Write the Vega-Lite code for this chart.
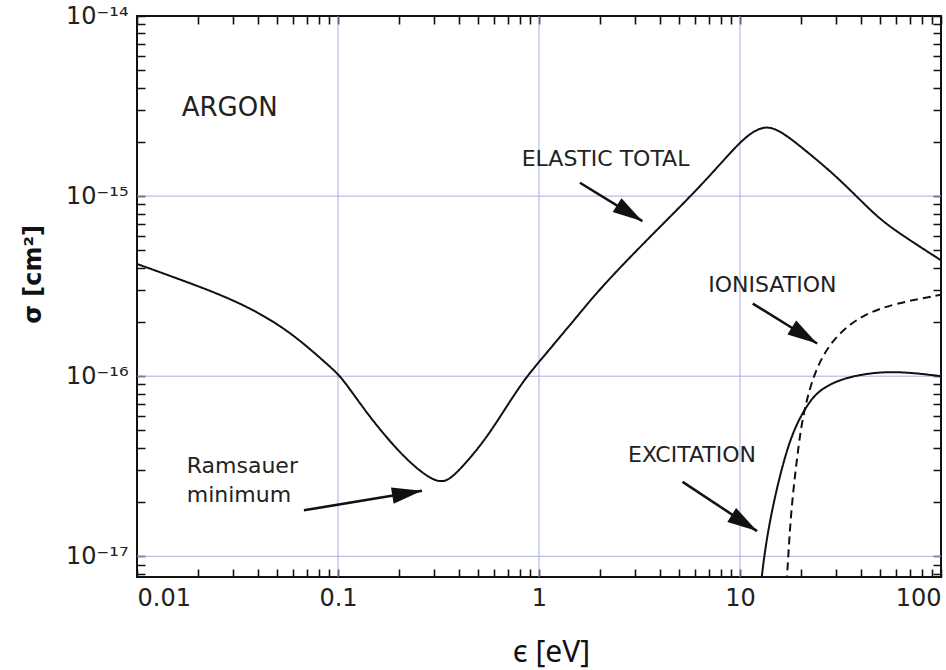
{
  "$schema": "https://vega.github.io/schema/vega-lite/v6.json",
  "width": 804,
  "height": 561,
  "autosize": {"type": "none"},
  "padding": {"left": 137, "top": 16, "right": 5, "bottom": 93},
  "background": "white",
  "config": {"view": {"stroke": "#111", "strokeWidth": 2}, "font": "DejaVu Sans"},
  "datasets": {
    "curves": [
      {"series": "elastic", "E": 0.01, "sigma": 4.2e-16},
      {"series": "elastic", "E": 0.02, "sigma": 3.18e-16},
      {"series": "elastic", "E": 0.03, "sigma": 2.65e-16},
      {"series": "elastic", "E": 0.0433, "sigma": 2.16e-16},
      {"series": "elastic", "E": 0.0622, "sigma": 1.65e-16},
      {"series": "elastic", "E": 0.0912, "sigma": 1.13e-16},
      {"series": "elastic", "E": 0.105, "sigma": 9.8e-17},
      {"series": "elastic", "E": 0.139, "sigma": 6.2e-17},
      {"series": "elastic", "E": 0.204, "sigma": 3.7e-17},
      {"series": "elastic", "E": 0.277, "sigma": 2.75e-17},
      {"series": "elastic", "E": 0.329, "sigma": 2.55e-17},
      {"series": "elastic", "E": 0.376, "sigma": 2.75e-17},
      {"series": "elastic", "E": 0.531, "sigma": 4.3e-17},
      {"series": "elastic", "E": 0.667, "sigma": 6.4e-17},
      {"series": "elastic", "E": 0.84, "sigma": 9.5e-17},
      {"series": "elastic", "E": 1.0, "sigma": 1.2e-16},
      {"series": "elastic", "E": 1.55, "sigma": 2.15e-16},
      {"series": "elastic", "E": 2.03, "sigma": 3.1e-16},
      {"series": "elastic", "E": 3.27, "sigma": 5.4e-16},
      {"series": "elastic", "E": 5.7, "sigma": 1.0e-15},
      {"series": "elastic", "E": 7.74, "sigma": 1.45e-15},
      {"series": "elastic", "E": 10.0, "sigma": 2.0e-15},
      {"series": "elastic", "E": 12.0, "sigma": 2.35e-15},
      {"series": "elastic", "E": 14.0, "sigma": 2.45e-15},
      {"series": "elastic", "E": 16.6, "sigma": 2.22e-15},
      {"series": "elastic", "E": 20.1, "sigma": 1.88e-15},
      {"series": "elastic", "E": 29.5, "sigma": 1.32e-15},
      {"series": "elastic", "E": 40.0, "sigma": 9.4e-16},
      {"series": "elastic", "E": 50.0, "sigma": 7.4e-16},
      {"series": "elastic", "E": 63.5, "sigma": 6.1e-16},
      {"series": "elastic", "E": 100.0, "sigma": 4.4e-16},
      {"series": "ionisation", "E": 16.9, "sigma": 6e-18},
      {"series": "ionisation", "E": 17.3, "sigma": 9.1e-18},
      {"series": "ionisation", "E": 17.9, "sigma": 1.73e-17},
      {"series": "ionisation", "E": 19.0, "sigma": 3.16e-17},
      {"series": "ionisation", "E": 20.1, "sigma": 5.25e-17},
      {"series": "ionisation", "E": 21.8, "sigma": 8.0e-17},
      {"series": "ionisation", "E": 24.4, "sigma": 1.17e-16},
      {"series": "ionisation", "E": 29.5, "sigma": 1.65e-16},
      {"series": "ionisation", "E": 40.0, "sigma": 2.18e-16},
      {"series": "ionisation", "E": 59.0, "sigma": 2.54e-16},
      {"series": "ionisation", "E": 100.0, "sigma": 2.83e-16},
      {"series": "excitation", "E": 12.45, "sigma": 5.7e-18},
      {"series": "excitation", "E": 13.2, "sigma": 1.03e-17},
      {"series": "excitation", "E": 14.3, "sigma": 1.73e-17},
      {"series": "excitation", "E": 16.0, "sigma": 3.0e-17},
      {"series": "excitation", "E": 18.3, "sigma": 4.97e-17},
      {"series": "excitation", "E": 21.8, "sigma": 7.1e-17},
      {"series": "excitation", "E": 25.4, "sigma": 8.6e-17},
      {"series": "excitation", "E": 34.4, "sigma": 1.0e-16},
      {"series": "excitation", "E": 56.6, "sigma": 1.08e-16},
      {"series": "excitation", "E": 100.0, "sigma": 1.0e-16}
    ],
    "gridE": [{"E": 0.1}, {"E": 1}, {"E": 10}],
    "gridS": [{"sigma": 1e-17}, {"sigma": 1e-16}, {"sigma": 1e-15}],
    "arrows": [
      {"label": "elastic", "E1": 1.598, "s1": 1.186e-15, "E2": 3.27, "s2": 7.26e-16},
      {"label": "ionisation", "E1": 11.57, "s1": 2.53e-16, "E2": 24.2, "s2": 1.52e-16},
      {"label": "excitation", "E1": 5.18, "s1": 2.59e-17, "E2": 12.16, "s2": 1.38e-17},
      {"label": "ramsauer", "E1": 0.0677, "s1": 1.8e-17, "E2": 0.2616, "s2": 2.31e-17}
    ],
    "texts": [
      {"text": "ARGON", "E": 0.01669, "sigma": 2.78e-15},
      {"text": "ELASTIC TOTAL", "E": 0.82, "sigma": 1.468e-15},
      {"text": "IONISATION", "E": 6.95, "sigma": 2.94e-16},
      {"text": "EXCITATION", "E": 2.772, "sigma": 3.34e-17},
      {"text": "Ramsauer", "E": 0.01768, "sigma": 2.89e-17},
      {"text": "minimum", "E": 0.01768, "sigma": 2.01e-17}
    ]
  },
  "layer": [
    {
      "data": {"name": "gridE"},
      "mark": {"type": "rule", "color": "#a9aee2", "strokeWidth": 1},
      "encoding": {
        "x": {"field": "E", "type": "quantitative", "scale": {"type": "log", "domain": [0.01, 100], "nice": false}, "axis": null}
      }
    },
    {
      "data": {"name": "gridS"},
      "mark": {"type": "rule", "color": "#a9aee2", "strokeWidth": 1},
      "encoding": {
        "y": {"field": "sigma", "type": "quantitative", "scale": {"type": "log", "domain": [7.674e-18, 1e-14], "nice": false}, "axis": null}
      }
    },
    {
      "data": {"name": "curves"},
      "mark": {"type": "line", "clip": true, "strokeWidth": 2, "color": "#111", "interpolate": "basis"},
      "encoding": {
        "x": {
          "field": "E", "type": "quantitative",
          "scale": {"type": "log", "domain": [0.01, 100], "nice": false},
          "axis": {
            "orient": "bottom",
            "values": [0.01,0.02,0.03,0.04,0.05,0.06,0.07,0.08,0.09,0.1,0.2,0.3,0.4,0.5,0.6,0.7,0.8,0.9,1,2,3,4,5,6,7,8,9,10,20,30,40,50,60,70,80,90,100],
            "labelExpr": "abs(log(datum.value)/LN10 - round(log(datum.value)/LN10)) < 0.01 ? format(datum.value, '~g') : ''",
            "labelFont": "DejaVu Sans", "labelFontSize": 24, "labelColor": "#222",
            "labelPadding": 9, "labelOverlap": false, "labelBound": false, "labelFlush": true,
            "ticks": false, "domain": false,
            "grid": true, "gridColor": "#111", "gridWidth": 1.6, "gridOpacity": 1, "gridDash": [8, 545, 8, 2000],
            "title": "ϵ [eV]", "titleFont": "Noto Sans", "titleFontSize": 30, "titleFontWeight": "normal", "titleColor": "#111",
            "titleX": 414, "titleY": 84, "titleBaseline": "alphabetic", "titleAlign": "center"
          }
        },
        "y": {
          "field": "sigma", "type": "quantitative",
          "scale": {"type": "log", "domain": [7.674e-18, 1e-14], "nice": false},
          "axis": {
            "orient": "left",
            "values": [8e-18,9e-18,1e-17,2e-17,3e-17,4e-17,5e-17,6e-17,7e-17,8e-17,9e-17,1e-16,2e-16,3e-16,4e-16,5e-16,6e-16,7e-16,8e-16,9e-16,1e-15,2e-15,3e-15,4e-15,5e-15,6e-15,7e-15,8e-15,9e-15,1e-14],
            "labelExpr": "abs(log(datum.value)/LN10 - round(log(datum.value)/LN10)) < 0.01 ? '10⁻¹' + ['⁰','¹','²','³','⁴','⁵','⁶','⁷','⁸','⁹'][-round(log(datum.value)/LN10) - 10] : ''",
            "labelFont": "DejaVu Sans", "labelFontSize": 24, "labelColor": "#222",
            "labelPadding": 9, "labelOverlap": false, "labelBound": false, "labelFlush": false,
            "labelBaseline": "middle",
            "ticks": false, "domain": false,
            "grid": true, "gridColor": "#111", "gridWidth": 1.6, "gridOpacity": 1, "gridDash": [8, 788, 8, 2000],
            "title": "σ [cm²]", "titleFont": "DejaVu Sans", "titleFontSize": 24, "titleFontWeight": "bold", "titleColor": "#111",
            "titleX": -97, "titleY": 258, "titleBaseline": "alphabetic", "titleAlign": "center", "titleAngle": 270
          }
        },
        "strokeDash": {
          "field": "series", "type": "nominal",
          "scale": {"domain": ["elastic", "ionisation", "excitation"], "range": [[1, 0], [8, 5], [1, 0]]},
          "legend": null
        }
      }
    },
    {
      "data": {"name": "arrows"},
      "mark": {"type": "rule", "strokeWidth": 2.5, "color": "#111"},
      "encoding": {
        "x": {"field": "E1", "type": "quantitative", "scale": {"type": "log", "domain": [0.01, 100], "nice": false}, "axis": null},
        "y": {"field": "s1", "type": "quantitative", "scale": {"type": "log", "domain": [7.674e-18, 1e-14], "nice": false}, "axis": null},
        "x2": {"field": "E2"},
        "y2": {"field": "s2"}
      }
    },
    {
      "data": {"name": "arrows"},
      "transform": [{"filter": "datum.label !== 'ramsauer'"}],
      "mark": {"type": "point", "shape": "M0,0L-2,-0.55L-2,0.55Z", "filled": true, "color": "#111", "opacity": 1, "size": 900, "strokeWidth": 0, "angle": 32.3},
      "encoding": {
        "x": {"field": "E2", "type": "quantitative", "scale": {"type": "log", "domain": [0.01, 100], "nice": false}, "axis": null},
        "y": {"field": "s2", "type": "quantitative", "scale": {"type": "log", "domain": [7.674e-18, 1e-14], "nice": false}, "axis": null}
      }
    },
    {
      "data": {"name": "arrows"},
      "transform": [{"filter": "datum.label === 'ramsauer'"}],
      "mark": {"type": "point", "shape": "M0,0L-2,-0.55L-2,0.55Z", "filled": true, "color": "#111", "opacity": 1, "size": 900, "strokeWidth": 0, "angle": 350.7},
      "encoding": {
        "x": {"field": "E2", "type": "quantitative", "scale": {"type": "log", "domain": [0.01, 100], "nice": false}, "axis": null},
        "y": {"field": "s2", "type": "quantitative", "scale": {"type": "log", "domain": [7.674e-18, 1e-14], "nice": false}, "axis": null}
      }
    },
    {
      "data": {"name": "texts"},
      "mark": {"type": "text", "align": "left", "baseline": "alphabetic", "font": "DejaVu Sans", "color": "#222"},
      "encoding": {
        "x": {"field": "E", "type": "quantitative", "scale": {"type": "log", "domain": [0.01, 100], "nice": false}, "axis": null},
        "y": {"field": "sigma", "type": "quantitative", "scale": {"type": "log", "domain": [7.674e-18, 1e-14], "nice": false}, "axis": null},
        "text": {"field": "text"},
        "size": {"condition": {"test": "datum.text === 'ARGON'", "value": 26}, "value": 22}
      }
    }
  ],
  "resolve": {"axis": {"x": "independent", "y": "independent"}}
}
